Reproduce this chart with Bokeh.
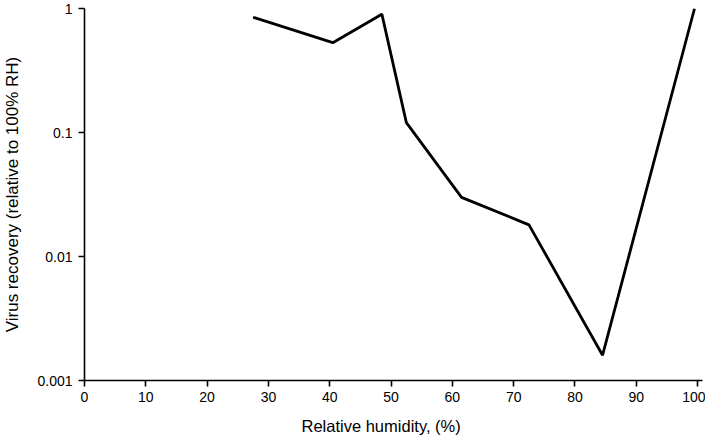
from bokeh.plotting import figure
from bokeh.models import FixedTicker, Range1d, CustomJSTickFormatter, Title
from bokeh.embed import file_html
from bokeh.resources import INLINE

# Data
humidity = [27.5, 40.5, 48.5, 52.5, 61.5, 72.5, 84.5, 99.5]
recovery = [0.85, 0.53, 0.90, 0.12, 0.030, 0.018, 0.0016, 1.0]

x_ticks = [0, 10, 20, 30, 40, 50, 60, 70, 80, 90, 100]
y_ticks = [0.001, 0.01, 0.1, 1]

x_title = "Relative humidity, (%)"
y_title = "Virus recovery (relative to 100% RH)"

FONT = "Liberation Sans"

p = figure(width=705, height=445, y_axis_type="log",
           x_range=Range1d(0, 100.8), y_range=Range1d(0.001, 1.0),
           output_backend="svg", toolbar_location=None,
           min_border_left=77, min_border_right=3,
           min_border_top=8, min_border_bottom=65)

p.line(humidity, recovery, line_color="black", line_width=2.8)

p.outline_line_color = None
p.xgrid.visible = False
p.ygrid.visible = False
p.background_fill_color = "white"
p.border_fill_color = "white"

p.xaxis.ticker = FixedTicker(ticks=x_ticks)
p.yaxis.ticker = FixedTicker(ticks=y_ticks)
p.yaxis.formatter = CustomJSTickFormatter(code="""
const m = {0.001: "0.001", 0.01: "0.01", 0.1: "0.1", 1: "1"};
const k = Number(tick.toPrecision(3));
return m[k] !== undefined ? m[k] : String(k);
""")

for ax in (p.xaxis[0], p.yaxis[0]):
    ax.axis_line_color = "black"
    ax.axis_line_width = 1.6
    ax.major_tick_line_color = "black"
    ax.major_tick_line_width = 1.6
    ax.major_tick_out = 6
    ax.major_tick_in = 0
    ax.minor_tick_out = 0
    ax.minor_tick_in = 0
    ax.major_label_text_font = FONT
    ax.major_label_text_font_size = "14px"
    ax.major_label_text_color = "black"
    ax.axis_label_text_font = FONT
    ax.axis_label_text_font_style = "normal"
    ax.axis_label_text_color = "black"

p.xaxis.major_label_standoff = 5

# x-axis title, slightly left of centre as in the reference
xt = Title(text=x_title, align="left", offset=217, standoff=21,
           text_font=FONT, text_font_size="16.5px", text_font_style="normal",
           text_color="black")
p.add_layout(xt, "below")

p.yaxis.axis_label = y_title
p.yaxis.axis_label_text_font_size = "17px"
p.yaxis.major_label_standoff = 6
p.yaxis.axis_label_standoff = 12

open("out.html", "w").write(file_html(p, INLINE))
